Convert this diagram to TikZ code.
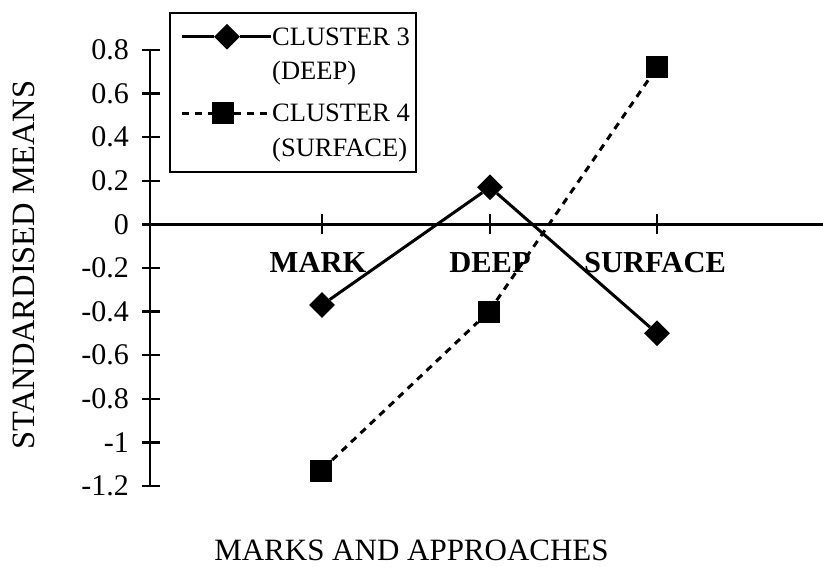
\documentclass[tikz,border=0pt]{standalone}
\usepackage{fontspec}
\setmainfont{Liberation Serif}
\usetikzlibrary{shapes.geometric}

\begin{document}
\begin{tikzpicture}[x=1pt,y=-1pt,
	font=\fontsize{30}{36}\selectfont,
	axis/.style={line width=2.4pt},
	dmark/.style={diamond,fill=black,inner sep=0pt,minimum size=26pt},
	smark/.style={rectangle,fill=black,inner sep=0pt,minimum size=22pt},
	cl3/.style={line width=3pt},
	cl4/.style={line width=3pt,dash pattern=on 7pt off 6pt},
	leg/.style={font=\fontsize{26.5}{32}\selectfont,anchor=west,inner sep=0pt},
	cat/.style={font=\fontsize{30.5}{36}\selectfont\bfseries,inner sep=0pt}]
	\useasboundingbox (0,0) rectangle (823,566);

	% plot area, y in data units
	\begin{scope}[yshift=-224.3pt,y=218pt]
	\draw[axis] (150,0.8) -- (150,-1.2);
	\draw[axis] (150,0) -- (823,0);
	\foreach \v [count=\i] in {0.8,0.6,0.4,0.2,0,-0.2,-0.4,-0.6,-0.8,-1,-1.2} {
		\draw[axis] (142,\v) -- (160,\v);
		\node[anchor=east,inner sep=0pt] (ylab\i) at (129,\v) {\v};
	}
	\foreach \x in {322,490,657}
		\draw[axis] (\x,0) ++(0,-10pt) -- ++(0,20pt);

	\node[cat] (catmark) at (318,-0.174) {MARK};
	\node[cat] (catdeep) at (490,-0.174) {DEEP};
	\node[cat] (catsurf) at (655,-0.174) {SURFACE};

	% cluster 3
	\node[dmark] (c3mark) at (322,-0.37) {};
	\node[dmark] (c3deep) at (490,0.17) {};
	\node[dmark] (c3surf) at (657,-0.5) {};
	\draw[cl3] (c3mark) -- (c3deep) -- (c3surf);

	% cluster 4
	\node[smark] (c4mark) at (321,-1.13) {};
	\node[smark] (c4deep) at (489,-0.4) {};
	\node[smark] (c4surf) at (657,0.72) {};
	\draw[cl4] (c4mark) -- (c4deep) -- (c4surf);
	\end{scope}

	\node[rotate=90,font=\fontsize{32.5}{38}\selectfont] (ytitle) at (24,265) {STANDARDISED MEANS};
	\node[font=\fontsize{31}{37}\selectfont] (xtitle) at (411.5,550) {MARKS AND APPROACHES};

	% legend
	\draw[axis] (170,13) rectangle (416,172);
	\coordinate (l3a) at (182,36.7);
	\coordinate (l3b) at (271,36.7);
	\node[dmark] (l3m) at (227,36.7) {};
	\draw[cl3] (l3a) -- (l3m) -- (l3b);
	\node[leg] (l3t) at (272,36.7) {CLUSTER 3};
	\node[leg] (l3s) at (272,73.5) {(DEEP)};
	\coordinate (l4a) at (182,113);
	\coordinate (l4b) at (271,113);
	\node[smark] (l4m) at (223,113) {};
	\draw[cl4] (l4a) -- (l4m) -- (l4b);
	\node[leg] (l4t) at (272,113) {CLUSTER 4};
	\node[leg] (l4s) at (272,150.5) {(SURFACE)};
\end{tikzpicture}
\end{document}
